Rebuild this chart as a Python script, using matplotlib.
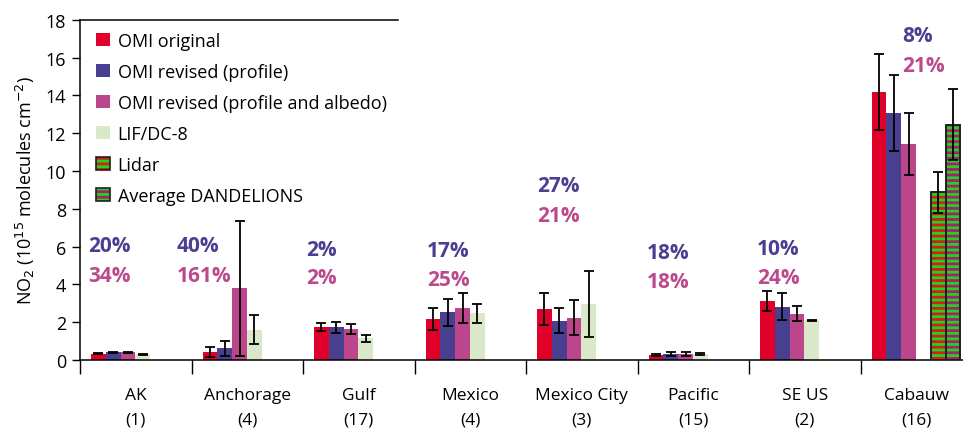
import numpy as np
import matplotlib
matplotlib.use("Agg")
import matplotlib.pyplot as plt
from matplotlib.patches import Patch
from matplotlib.legend_handler import HandlerTuple

plt.rcParams['font.family'] = ['Open Sans', 'DejaVu Sans']
plt.rcParams['hatch.linewidth'] = 2.0

# ---- data -----------------------------------------------------------------
categories = ["AK", "Anchorage", "Gulf", "Mexico", "Mexico City", "Pacific", "SE US", "Cabauw"]
counts = [1, 4, 17, 4, 3, 15, 2, 16]

omi_original = [0.33, 0.41, 1.73, 2.17, 2.70, 0.26, 3.12, 14.16]
omi_original_err = [0.03, 0.27, 0.22, 0.56, 0.85, 0.05, 0.53, 2.00]
omi_profile = [0.41, 0.63, 1.73, 2.52, 2.08, 0.32, 2.82, 13.07]
omi_profile_err = [0.02, 0.40, 0.28, 0.73, 0.66, 0.10, 0.72, 2.02]
omi_albedo = [0.41, 3.79, 1.64, 2.75, 2.24, 0.32, 2.45, 11.44]
omi_albedo_err = [0.02, 3.57, 0.25, 0.77, 0.92, 0.10, 0.41, 1.65]
lif_dc8 = [0.31, 1.59, 1.15, 2.47, 2.96, 0.32, 2.10, np.nan]
lif_dc8_err = [0.02, 0.77, 0.18, 0.50, 1.73, 0.07, 0.03, np.nan]
lidar = [np.nan] * 7 + [8.87]
lidar_err = [np.nan] * 7 + [1.07]
dandelions = [np.nan] * 7 + [12.45]
dandelions_err = [np.nan] * 7 + [1.88]

pct_profile = ["20%", "40%", "2%", "17%", "27%", "18%", "10%", "8%"]
pct_albedo = ["34%", "161%", "2%", "25%", "21%", "18%", "24%", "21%"]

# ---- layout ---------------------------------------------------------------
pct_x = [-0.428, 0.370, 1.527, 2.612, 3.599, 4.585, 5.572, 6.872]
pct_profile_y = [5.77, 5.77, 5.56, 5.52, 8.94, 5.38, 5.61, 16.89]
pct_albedo_y = [4.18, 4.18, 4.07, 3.98, 7.35, 3.88, 4.06, 15.31]

c_red = "#e0002a"
c_blue = "#483f8f"
c_pink = "#bc468c"
c_green = "#d9e8c9"
c_txt_blue = "#4a3f90"
c_txt_pink = "#bb4a8d"

fig = plt.figure(figsize=(9.63, 4.35), dpi=100)
ax = fig.add_axes([80 / 963, 74 / 435, 883 / 963, (361 - 20.7) / 435])

n = len(categories)
x = np.arange(n)
w = 14.8 / 111.5
start = -0.5 + 11 / 111.5

series = [
    (omi_original, omi_original_err, c_red, "OMI original", None),
    (omi_profile, omi_profile_err, c_blue, "OMI revised (profile)", None),
    (omi_albedo, omi_albedo_err, c_pink, "OMI revised (profile and albedo)", None),
    (lif_dc8, lif_dc8_err, c_green, "LIF/DC-8", None),
    (lidar, lidar_err, "#1fd41f", "Lidar", "#d61c1c"),
    (dandelions, dandelions_err, "#1fd41f", "Average DANDELIONS", "#a8206e"),
]

err_kw = dict(ecolor="black", elinewidth=1.3, capsize=3.7, capthick=1.3)
handles, labels = [], []
for k, (vals, errs, col, lab, hcol) in enumerate(series):
    xpos = x + start + (k + 0.5) * w
    vals = np.asarray(vals, float)
    errs = np.asarray(errs, float)
    if hcol is None:
        ax.bar(xpos, vals, w, color=col, edgecolor="none", zorder=2)
        handles.append(Patch(facecolor=col, edgecolor="none"))
    else:
        ax.bar(xpos, vals, w, color=col, edgecolor=hcol, hatch="---",
               linewidth=0, zorder=2)
        ax.bar(xpos, vals, w, fill=False, edgecolor="#202020", linewidth=1.4, zorder=3)
        handles.append((Patch(facecolor=col, edgecolor=hcol, hatch="---", linewidth=0),
                        Patch(fill=False, edgecolor="#202020", linewidth=1.2)))
    labels.append(lab)
    ax.errorbar(xpos, vals, yerr=errs, fmt="none", zorder=4, **err_kw)

for xi, tb, yb, tp, yp in zip(pct_x, pct_profile, pct_profile_y, pct_albedo, pct_albedo_y):
    ax.text(xi, yb, tb, color=c_txt_blue, fontsize=15, fontweight="bold",
            ha="left", va="baseline")
    ax.text(xi, yp, tp, color=c_txt_pink, fontsize=15, fontweight="bold",
            ha="left", va="baseline")

ax.set_xlim(-0.5, -0.5 + 883 / 111.5)
ax.set_ylim(0, 18)
ax.set_yticks(np.arange(0, 19, 2))
ax.tick_params(axis="y", direction="out", length=6, width=1, labelsize=13, pad=4)
ax.set_xticks(np.arange(n) - 0.5)
ax.set_xticklabels([])
ax.tick_params(axis="x", direction="out", length=10, width=1)
for xi, name, cnt in zip(x, categories, counts):
    ax.text(xi, -1.85, name, ha="center", va="center", fontsize=12.5)
    ax.text(xi, -3.15, f"({cnt})", ha="center", va="center", fontsize=12.5)

for s in ("top", "right"):
    ax.spines[s].set_visible(False)
for s in ("left", "bottom"):
    ax.spines[s].set_linewidth(1.1)

ax.set_ylabel(r"NO$_2$ (10$^{15}$ molecules cm$^{-2}$)", fontsize=13, labelpad=6)

# frame line over the legend
ax.plot([0, (398 - 80) / 883], [1, 1], color="black", lw=1.1,
        transform=ax.transAxes, clip_on=False)

leg = ax.legend(handles=handles, labels=labels, loc="upper left",
                bbox_to_anchor=(0.01, 0.985), frameon=False, fontsize=13,
                handlelength=0.75, handleheight=0.75, handletextpad=0.45,
                labelspacing=0.72, borderaxespad=0,
                handler_map={tuple: HandlerTuple(ndivide=1, pad=0)})

fig.savefig("out.png", dpi=100)
